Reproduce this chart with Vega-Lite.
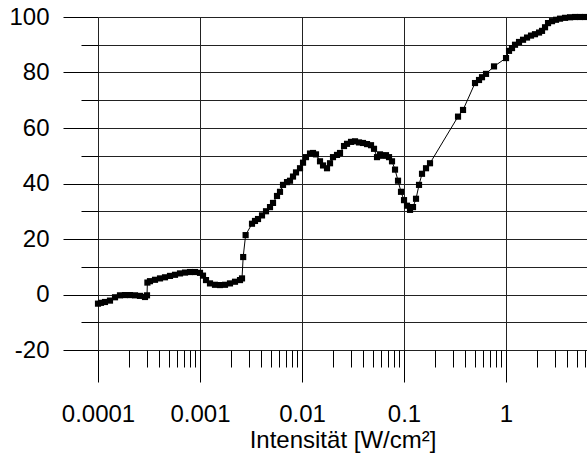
{
  "$schema": "https://vega.github.io/schema/vega-lite/v6.json",
  "width": 489,
  "height": 333,
  "autosize": {"type": "none"},
  "padding": {"left": 98, "top": 17, "right": 0, "bottom": 107},
  "background": "white",
  "config": {
    "view": {"stroke": null},
    "font": "Liberation Sans",
    "axis": {"labelColor": "black", "tickColor": "black", "gridColor": "#222", "gridWidth": 1, "tickWidth": 1, "domain": false, "labelFontSize": 24, "labelFont": "Liberation Sans", "titleFont": "Liberation Sans", "titleFontWeight": "normal", "titleColor": "black", "titleFontSize": 24}
  },
  "data": {
    "values": [
      {"I": 0.0001, "v": -3.3},
      {"I": 0.000107, "v": -3.0},
      {"I": 0.0001171, "v": -2.7},
      {"I": 0.0001311, "v": -2.2},
      {"I": 0.0001468, "v": -1.0},
      {"I": 0.0001643, "v": -0.3},
      {"I": 0.0001839, "v": -0.2},
      {"I": 0.0002059, "v": -0.2},
      {"I": 0.0002305, "v": -0.3},
      {"I": 0.0002581, "v": -0.5},
      {"I": 0.0002889, "v": -0.9},
      {"I": 0.0003023, "v": -0.3},
      {"I": 0.000305, "v": 4.3},
      {"I": 0.0003234, "v": 4.8},
      {"I": 0.0003621, "v": 5.3},
      {"I": 0.0004054, "v": 5.8},
      {"I": 0.0004538, "v": 6.2},
      {"I": 0.000508, "v": 6.7},
      {"I": 0.0005687, "v": 7.1},
      {"I": 0.0006367, "v": 7.6},
      {"I": 0.0007128, "v": 7.9},
      {"I": 0.000798, "v": 8.1},
      {"I": 0.0008934, "v": 8.1},
      {"I": 0.001, "v": 7.8},
      {"I": 0.00107, "v": 6.8},
      {"I": 0.001145, "v": 5.2},
      {"I": 0.001253, "v": 4.0},
      {"I": 0.001403, "v": 3.5},
      {"I": 0.001571, "v": 3.4},
      {"I": 0.001758, "v": 3.5},
      {"I": 0.001968, "v": 4.0},
      {"I": 0.002203, "v": 4.6},
      {"I": 0.002467, "v": 5.2},
      {"I": 0.002581, "v": 5.8},
      {"I": 0.00265, "v": 13.5},
      {"I": 0.0028, "v": 21.4},
      {"I": 0.003234, "v": 25.5},
      {"I": 0.00346, "v": 26.5},
      {"I": 0.003704, "v": 27.2},
      {"I": 0.004054, "v": 28.5},
      {"I": 0.004437, "v": 30.0},
      {"I": 0.004856, "v": 31.5},
      {"I": 0.005197, "v": 33.0},
      {"I": 0.005687, "v": 35.5},
      {"I": 0.006084, "v": 37.0},
      {"I": 0.006512, "v": 39.5},
      {"I": 0.007128, "v": 40.5},
      {"I": 0.007625, "v": 41.0},
      {"I": 0.008162, "v": 42.5},
      {"I": 0.008733, "v": 44.0},
      {"I": 0.009558, "v": 45.5},
      {"I": 0.01023, "v": 47.5},
      {"I": 0.01094, "v": 49.5},
      {"I": 0.01198, "v": 50.8},
      {"I": 0.01282, "v": 51.0},
      {"I": 0.01371, "v": 50.5},
      {"I": 0.01501, "v": 48.0},
      {"I": 0.01607, "v": 46.5},
      {"I": 0.01758, "v": 45.5},
      {"I": 0.01882, "v": 47.3},
      {"I": 0.02013, "v": 49.5},
      {"I": 0.02203, "v": 50.3},
      {"I": 0.02358, "v": 51.0},
      {"I": 0.02581, "v": 53.5},
      {"I": 0.02762, "v": 54.3},
      {"I": 0.03023, "v": 55.0},
      {"I": 0.03309, "v": 55.2},
      {"I": 0.03621, "v": 54.8},
      {"I": 0.03963, "v": 54.6},
      {"I": 0.04338, "v": 54.2},
      {"I": 0.04748, "v": 53.8},
      {"I": 0.0508, "v": 52.5},
      {"I": 0.05435, "v": 49.5},
      {"I": 0.05815, "v": 50.5},
      {"I": 0.06222, "v": 50.0},
      {"I": 0.06657, "v": 50.2},
      {"I": 0.07128, "v": 49.5},
      {"I": 0.07625, "v": 48.0},
      {"I": 0.08162, "v": 45.0},
      {"I": 0.08733, "v": 41.0},
      {"I": 0.09343, "v": 37.0},
      {"I": 0.1, "v": 34.0},
      {"I": 0.107, "v": 32.0},
      {"I": 0.1145, "v": 30.5},
      {"I": 0.1225, "v": 31.5},
      {"I": 0.1311, "v": 34.5},
      {"I": 0.1403, "v": 39.5},
      {"I": 0.1501, "v": 43.5},
      {"I": 0.1643, "v": 45.5},
      {"I": 0.1798, "v": 47.3},
      {"I": 0.3384, "v": 64.1},
      {"I": 0.3789, "v": 66.5},
      {"I": 0.4966, "v": 76.2},
      {"I": 0.5435, "v": 77.3},
      {"I": 0.5815, "v": 78.3},
      {"I": 0.6367, "v": 79.5},
      {"I": 0.7625, "v": 82.2},
      {"I": 1.0, "v": 85.2},
      {"I": 1.07, "v": 87.8},
      {"I": 1.145, "v": 88.8},
      {"I": 1.225, "v": 90.0},
      {"I": 1.341, "v": 91.0},
      {"I": 1.468, "v": 91.8},
      {"I": 1.607, "v": 92.6},
      {"I": 1.758, "v": 93.3},
      {"I": 1.923, "v": 93.8},
      {"I": 2.107, "v": 94.4},
      {"I": 2.254, "v": 95.0},
      {"I": 2.412, "v": 96.3},
      {"I": 2.581, "v": 97.8},
      {"I": 2.825, "v": 98.5},
      {"I": 3.092, "v": 99.0},
      {"I": 3.384, "v": 99.4},
      {"I": 3.789, "v": 99.7},
      {"I": 4.242, "v": 99.9},
      {"I": 4.748, "v": 100.0},
      {"I": 5.315, "v": 100.0},
      {"I": 5.95, "v": 100.0}
    ]
  },
  "encoding": {
    "x": {
      "field": "I",
      "type": "quantitative",
      "scale": {"type": "log", "domain": [0.0001, 6.22], "nice": false},
      "axis": {
        "title": "Intensität [W/cm²]",
        "titleY": 97,
        "titleBaseline": "alphabetic",
        "titleAnchor": "middle",
        "values": [0.0001, 0.0002, 0.0003, 0.0004, 0.0005, 0.0006, 0.0007, 0.0008, 0.0009,
                   0.001, 0.002, 0.003, 0.004, 0.005, 0.006, 0.007, 0.008, 0.009,
                   0.01, 0.02, 0.03, 0.04, 0.05, 0.06, 0.07, 0.08, 0.09,
                   0.1, 0.2, 0.3, 0.4, 0.5, 0.6, 0.7, 0.8, 0.9,
                   1, 2, 3, 4, 5, 6],
        "labelExpr": "abs(log(datum.value)/LN10 - round(log(datum.value)/LN10)) < 0.001 ? format(datum.value, '~g') : ''",
        "tickSize": {"condition": {"test": "abs(log(datum.value)/LN10 - round(log(datum.value)/LN10)) < 0.001", "value": 32}, "value": 17},
        "gridOpacity": {"condition": {"test": "abs(log(datum.value)/LN10 - round(log(datum.value)/LN10)) < 0.001", "value": 1}, "value": 0},
        "labelPadding": 20,
        "labelFlush": false,
        "labelOverlap": false
      }
    },
    "y": {
      "field": "v",
      "type": "quantitative",
      "scale": {"domain": [-20, 100], "nice": false, "zero": false},
      "axis": {
        "title": null,
        "values": [-20, -10, 0, 10, 20, 30, 40, 50, 60, 70, 80, 90, 100],
        "labelExpr": "datum.value % 20 == 0 ? '' + datum.value : ''",
        "tickSize": {"condition": {"test": "datum.value % 20 == 0", "value": 35}, "value": 17},
        "labelPadding": 14,
        "labelOverlap": false,
        "labelFlush": false
      }
    }
  },
  "layer": [
    {"mark": {"type": "line", "color": "black", "strokeWidth": 1, "clip": true}},
    {"mark": {"type": "point", "shape": "square", "filled": true, "color": "black", "size": 38, "opacity": 1}}
  ]
}
